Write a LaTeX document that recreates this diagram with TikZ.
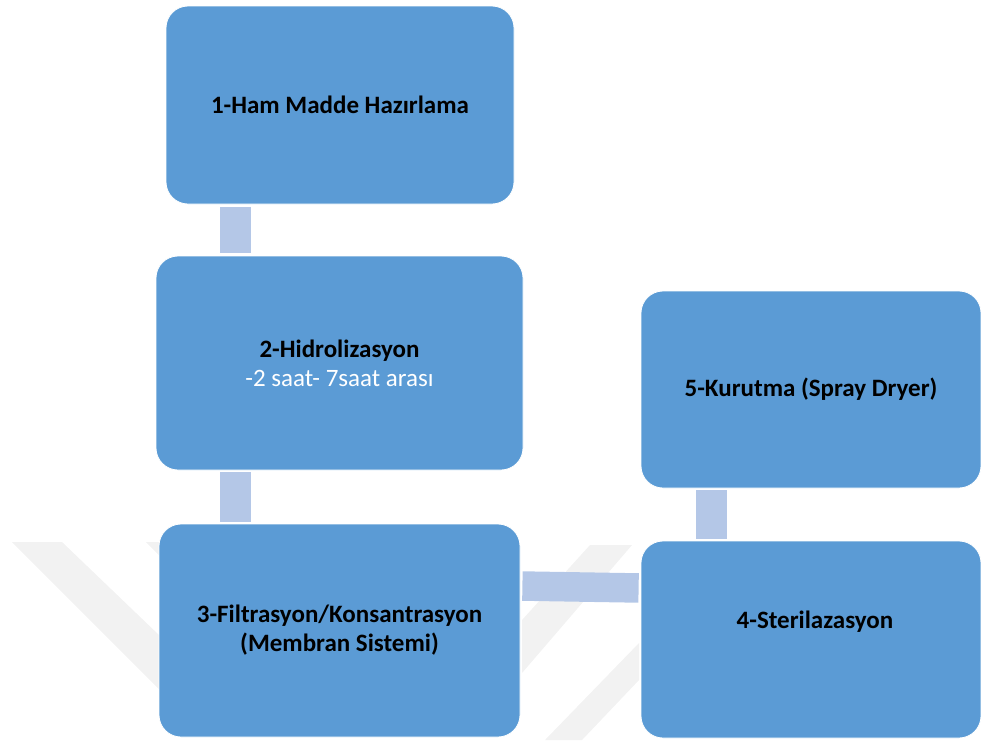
\documentclass[tikz,border=0pt]{standalone}
\usepackage{fontspec}
\setmainfont{Carlito}
\definecolor{boxblue}{HTML}{5B9BD5}
\definecolor{connblue}{HTML}{B4C7E7}
\definecolor{wmark}{HTML}{F2F2F2}
\tikzset{
  stepbox/.style={fill=boxblue, draw=white, line width=0.8pt, rounded corners=22pt,
    inner sep=0pt, align=center, font=\fontsize{25}{29}\selectfont\bfseries},
  conn/.style={draw=connblue, line width=31pt, line cap=butt},
  wm/.style={fill=wmark, draw=none},
  lbl/.style={inner sep=0pt, align=center, font=\fontsize{25}{29}\selectfont\bfseries}
}
\begin{document}
\begin{tikzpicture}[x=1pt,y=-1pt]
\useasboundingbox (0,0) rectangle (981,740);
% watermark
\fill[wm] (12,542) -- (62,542) -- (160,636) -- (160,690) -- cycle;
\fill[wm] (146,542) -- (160,542) -- (160,556) -- cycle;
\fill[wm] (590,545) -- (632,545) -- (522,673) -- (522,620) -- cycle;
\fill[wm] (639,643) -- (639,680) -- (582,740) -- (545,740) -- cycle;
% boxes
\node[stepbox, minimum width=348pt, minimum height=198pt] (b1) at (340,105) {1-Ham Madde Hazırlama};
\node[stepbox, minimum width=367pt, minimum height=214pt] (b2) at (339.5,363)
  {\fontsize{25}{32}\selectfont 2-Hidrolizasyon\\ \color{white}\mdseries -2 saat- 7saat arası};
\node[stepbox, minimum width=361pt, minimum height=213pt] (b3) at (339.5,630.5)
  {\fontsize{25}{27}\selectfont 3-Filtrasyon/Konsantrasyon\\(Membran Sistemi)};
\node[stepbox, minimum width=340pt, minimum height=197pt] (b4) at (811,639.5) {};
\node[lbl] (t4) at (815,622) {4-Sterilazasyon};
\node[stepbox, minimum width=340pt, minimum height=197pt] (b5) at (811,389.5) {5-Kurutma (Spray Dryer)};
% connectors
\draw[conn, shorten <=2.5pt, shorten >=2.5pt] (235.5,0 |- b1.south) -- (235.5,0 |- b2.north);
\draw[conn, shorten <=2pt, shorten >=2pt] (235.5,0 |- b2.south) -- (235.5,0 |- b3.north);
\draw[conn, shorten <=2pt, shorten >=2pt] (711,0 |- b5.south) -- (711,0 |- b4.north);
\draw[conn, line width=29.5pt, shorten <=2pt, shorten >=2pt] (b3.east |- 0,586) -- (b4.west |- 0,588);
\end{tikzpicture}
\end{document}
